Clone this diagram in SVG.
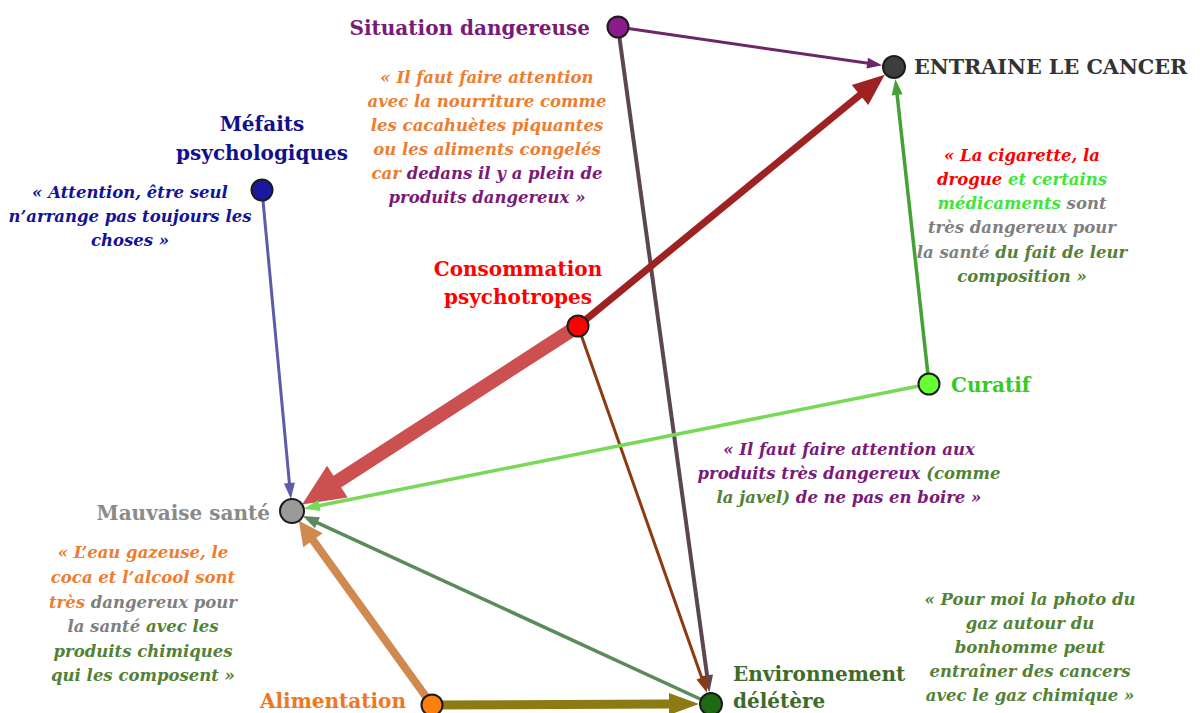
<svg xmlns="http://www.w3.org/2000/svg" width="1200" height="713" viewBox="0 0 1200 713">
<style>
.lbl{font-family:"DejaVu Serif","Liberation Serif",serif;font-weight:bold;font-size:20px}
.big{font-size:20.7px}
.q{font-family:"DejaVu Serif","Liberation Serif",serif;font-weight:bold;font-style:italic;font-size:16.5px;text-anchor:middle}
.node{stroke:#1c1c1c;stroke-width:2}
.c{fill:none;stroke-linecap:butt}
.or{fill:#ed7d31}.pu{fill:#7a1a78}.bl{fill:#12129a}.rd{fill:#ff0000}.lg{fill:#3fe63a}.gy{fill:#7f7f7f}.gr{fill:#538135}
</style>
<defs>
<marker id="m1" markerUnits="userSpaceOnUse" markerWidth="16" markerHeight="11" refX="1" refY="5.5" orient="auto" overflow="visible"><path d="M0,0 L15,5.5 L0,11 z" fill="#6b2868"/></marker>
<marker id="m2" markerUnits="userSpaceOnUse" markerWidth="18" markerHeight="12" refX="1" refY="6" orient="auto" overflow="visible"><path d="M0,0 L17,6 L0,12 z" fill="#5c4650"/></marker>
<marker id="m3" markerUnits="userSpaceOnUse" markerWidth="16" markerHeight="11" refX="1" refY="5.5" orient="auto" overflow="visible"><path d="M0,0 L16,5.5 L0,11 z" fill="#5c5caa"/></marker>
<marker id="m4" markerUnits="userSpaceOnUse" markerWidth="32" markerHeight="26" refX="1" refY="13" orient="auto" overflow="visible"><path d="M0,0 L32,13 L0,26 z" fill="#9e2222"/></marker>
<marker id="m5" markerUnits="userSpaceOnUse" markerWidth="42" markerHeight="38" refX="1" refY="19" orient="auto" overflow="visible"><path d="M0,0 L42,19 L0,38 z" fill="#cc5050"/></marker>
<marker id="m6" markerUnits="userSpaceOnUse" markerWidth="16" markerHeight="11" refX="1" refY="5.5" orient="auto" overflow="visible"><path d="M0,0 L16,5.5 L0,11 z" fill="#8b3a12"/></marker>
<marker id="m7" markerUnits="userSpaceOnUse" markerWidth="16" markerHeight="11" refX="1" refY="5.5" orient="auto" overflow="visible"><path d="M0,0 L16,5.5 L0,11 z" fill="#45a035"/></marker>
<marker id="m8" markerUnits="userSpaceOnUse" markerWidth="16" markerHeight="11" refX="1" refY="5.5" orient="auto" overflow="visible"><path d="M0,0 L16,5.5 L0,11 z" fill="#77d955"/></marker>
<marker id="m9" markerUnits="userSpaceOnUse" markerWidth="16" markerHeight="12" refX="1" refY="6" orient="auto" overflow="visible"><path d="M0,0 L16,6 L0,12 z" fill="#5b8a5b"/></marker>
<marker id="m10" markerUnits="userSpaceOnUse" markerWidth="24" markerHeight="24" refX="1" refY="12" orient="auto" overflow="visible"><path d="M0,0 L24,12 L0,24 z" fill="#d08a50"/></marker>
<marker id="m11" markerUnits="userSpaceOnUse" markerWidth="30" markerHeight="22" refX="1" refY="11" orient="auto" overflow="visible"><path d="M0,0 L30,11 L0,22 z" fill="#8c7a12"/></marker>
</defs>
<rect width="1200" height="713" fill="#ffffff"/>

<g id="connectors">
<line class="c" x1="618" y1="27" x2="868.2" y2="63.3" stroke="#6b2868" stroke-width="3" marker-end="url(#m1)"/>
<line class="c" x1="618" y1="27" x2="707.2" y2="676.3" stroke="#5c4650" stroke-width="4" marker-end="url(#m2)"/>
<line class="c" x1="262" y1="190" x2="289.5" y2="484.1" stroke="#5c5caa" stroke-width="3" marker-end="url(#m3)"/>
<line class="c" x1="578" y1="326" x2="860.8" y2="94.3" stroke="#9e2222" stroke-width="7" marker-end="url(#m4)"/>
<line class="c" x1="578" y1="326" x2="336.5" y2="482.2" stroke="#cc5050" stroke-width="14" marker-end="url(#m5)"/>
<line class="c" x1="578" y1="326" x2="702" y2="678.5" stroke="#8b3a12" stroke-width="3" marker-end="url(#m6)"/>
<line class="c" x1="929" y1="384" x2="897" y2="93.8" stroke="#45a035" stroke-width="3.5" marker-end="url(#m7)"/>
<line class="c" x1="929" y1="384" x2="318.5" y2="505.7" stroke="#77d955" stroke-width="3.5" marker-end="url(#m8)"/>
<line class="c" x1="711" y1="704" x2="316.5" y2="522.3" stroke="#5b8a5b" stroke-width="3.5" marker-end="url(#m9)"/>
<line class="c" x1="432" y1="705" x2="312.4" y2="539.4" stroke="#d08a50" stroke-width="8" marker-end="url(#m10)"/>
<line class="c" x1="432" y1="705" x2="670" y2="704" stroke="#8c7a12" stroke-width="9" marker-end="url(#m11)"/>
</g>

<g id="node-situation">
<circle class="node" cx="618" cy="27" r="10.5" fill="#8b1a8b"/>
<text class="lbl" x="590" y="35" text-anchor="end" fill="#7a1a78">Situation dangereuse</text>
</g>
<g id="node-cancer">
<circle class="node" cx="894" cy="67" r="11" fill="#3b3f3b"/>
<text class="lbl big" x="914" y="74" fill="#333333">ENTRAINE LE CANCER</text>
</g>
<g id="node-mefaits">
<circle class="node" cx="262" cy="190" r="10.5" fill="#1a1aa0"/>
<text class="lbl" x="262" y="131" text-anchor="middle" fill="#10108c">Méfaits</text>
<text class="lbl" x="262" y="160" text-anchor="middle" fill="#10108c">psychologiques</text>
</g>
<g id="node-consommation">
<circle class="node" cx="578" cy="326" r="10.5" fill="#ff0000"/>
<text class="lbl" x="518" y="276" text-anchor="middle" fill="#ff0000">Consommation</text>
<text class="lbl" x="518" y="304" text-anchor="middle" fill="#ff0000">psychotropes</text>
</g>
<g id="node-curatif">
<circle class="node" cx="929" cy="384" r="10.5" fill="#66ff33"/>
<text class="lbl" x="951" y="392" fill="#33cc22">Curatif</text>
</g>
<g id="node-mauvaise">
<circle class="node" cx="292" cy="511" r="12" fill="#9a9a98"/>
<text class="lbl" x="270" y="520" text-anchor="end" fill="#8a8a8a">Mauvaise santé</text>
</g>
<g id="node-alimentation">
<circle class="node" cx="432" cy="705" r="10.5" fill="#ff7f0e"/>
<text class="lbl" x="406" y="708" text-anchor="end" fill="#ee7722">Alimentation</text>
</g>
<g id="node-environnement">
<circle class="node" cx="711" cy="704" r="11" fill="#1e6b14"/>
<text class="lbl" x="733" y="681" fill="#3e6b2b">Environnement</text>
<text class="lbl" x="733" y="708" fill="#3e6b2b">délétère</text>
</g>

<g id="quote-alimentation">
<text class="q or" x="487" y="83">«  Il faut faire attention</text>
<text class="q or" x="487" y="107">avec la nourriture comme</text>
<text class="q or" x="487" y="131">les cacahuètes piquantes</text>
<text class="q or" x="487" y="155">ou les aliments congelés</text>
<text class="q" x="487" y="179"><tspan class="or">car </tspan><tspan class="pu">dedans il y a plein de</tspan></text>
<text class="q pu" x="487" y="203">produits dangereux »</text>
</g>
<g id="quote-mefaits">
<text class="q bl" x="130" y="198">«  Attention, être seul</text>
<text class="q bl" x="130" y="222">n’arrange pas toujours les</text>
<text class="q bl" x="130" y="246">choses »</text>
</g>
<g id="quote-curatif">
<text class="q rd" x="1022" y="161">« La cigarette, la</text>
<text class="q" x="1022" y="185"><tspan class="rd">drogue</tspan><tspan class="lg"> et certains</tspan></text>
<text class="q" x="1022" y="209"><tspan class="lg">médicaments</tspan><tspan class="gy"> sont</tspan></text>
<text class="q gy" x="1022" y="233">très dangereux pour</text>
<text class="q" x="1022" y="258"><tspan class="gy">la santé</tspan><tspan class="gr"> du fait de leur</tspan></text>
<text class="q gr" x="1022" y="282">composition »</text>
</g>
<g id="quote-javel">
<text class="q pu" x="849" y="455">«  Il faut faire attention aux</text>
<text class="q" x="849" y="479"><tspan class="pu">produits très dangereux </tspan><tspan class="gr">(comme</tspan></text>
<text class="q" x="849" y="503"><tspan class="gr">la javel)</tspan><tspan class="pu"> de ne pas en boire »</tspan></text>
</g>
<g id="quote-boissons">
<text class="q or" x="143" y="558">«  L’eau gazeuse, le</text>
<text class="q or" x="143" y="583">coca et l’alcool sont</text>
<text class="q" x="143" y="608"><tspan class="or">très</tspan><tspan class="gy"> dangereux pour</tspan></text>
<text class="q" x="143" y="632"><tspan class="gy">la santé</tspan><tspan class="gr"> avec les</tspan></text>
<text class="q gr" x="143" y="657">produits chimiques</text>
<text class="q gr" x="143" y="681">qui les composent »</text>
</g>
<g id="quote-gaz">
<text class="q gr" x="1030" y="605">« Pour moi la photo du</text>
<text class="q gr" x="1030" y="629">gaz autour du</text>
<text class="q gr" x="1030" y="653">bonhomme peut</text>
<text class="q gr" x="1030" y="677">entraîner des cancers</text>
<text class="q gr" x="1030" y="701">avec le gaz chimique »</text>
</g>
</svg>
